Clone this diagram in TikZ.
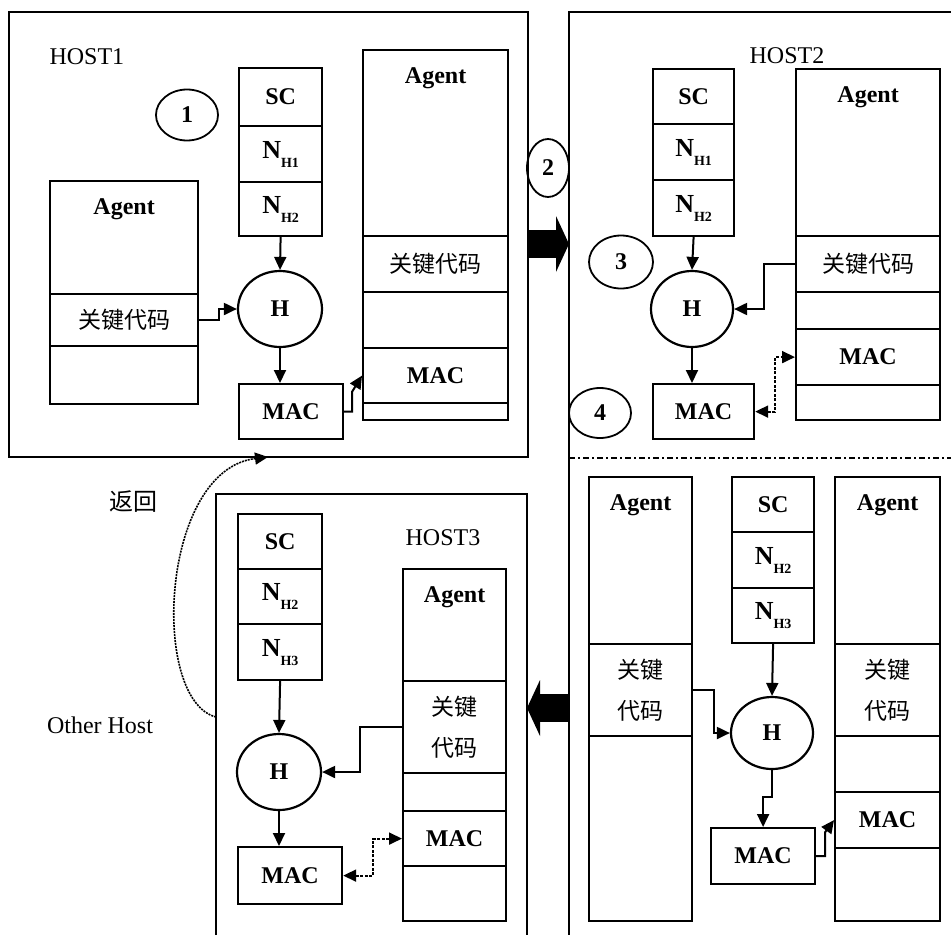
\documentclass[tikz,border=0pt]{standalone}
\usepackage{fontspec}
\setmainfont{Liberation Serif}
\newfontfamily\cjk{Noto Sans CJK SC}
\usetikzlibrary{arrows.meta,shapes.geometric}
\newcommand{\bigrm}{\fontsize{24}{28}\selectfont}
\newcommand{\Nsub}[1]{{\fontsize{26}{28}\selectfont N}\raisebox{-9pt}{\fontsize{14}{14}\selectfont #1}}

\begin{document}
\begin{tikzpicture}[x=1pt, y=-1pt,
  >={Triangle[length=13pt,width=12pt]},
  cell/.style={draw, line width=2.2pt, inner sep=0pt, anchor=north west, font=\bigrm\bfseries},
  agent/.style={cell, label={[anchor=north, inner sep=0pt, yshift=-18pt, font=\bigrm\bfseries]north:Agent}},
  key/.style={cell, font=\fontsize{23}{41}\selectfont\cjk, align=center},
  hash/.style={draw, ellipse, line width=2.2pt, inner sep=0pt, font=\bigrm\bfseries},
  numc/.style={draw, ellipse, line width=1.8pt, inner sep=0pt, font=\bigrm\bfseries},
  host/.style={font=\bigrm},
  frame/.style={line width=2.6pt},
  link/.style={line width=2pt, ->},
  dlink/.style={line width=1.8pt, dash pattern=on 3pt off 1.5pt, <->},
  retl/.style={line width=1.6pt, dash pattern=on 2pt off 1pt, ->},
  bigarrow/.style={line width=28pt, -{Triangle[length=13pt,width=56pt,line width=0pt]}}]
  \useasboundingbox (0,0) rectangle (951,935);
  \clip (0,0) rectangle (951,935);

  % HOST1
  \draw[frame] (9,12) rectangle (528,457);
  \node[host, anchor=west] (name1) at (46,57) {HOST1};
  \node[numc, minimum width=62pt, minimum height=51pt] (c1) at (187,115) {1};
  \node[cell, minimum width=83pt, minimum height=58pt] (sc1) at (238,67) {SC};
  \node[cell, minimum width=83pt, minimum height=56pt] (na1) at (238,125) {\Nsub{H1}};
  \node[cell, minimum width=83pt, minimum height=54pt] (nb1) at (238,181) {\Nsub{H2}};
  \node[hash, minimum width=84pt, minimum height=76pt] (h1) at (280,309) {H};
  \node[cell, minimum width=104pt, minimum height=55pt] (mac1) at (238,383) {MAC};
  \node[agent, minimum width=148pt, minimum height=113pt] (la1) at (49,180) {};
  \node[key, minimum width=148pt, minimum height=52pt] (lk1) at (49,293) {关键代码};
  \node[cell, minimum width=148pt, minimum height=58pt] (le1) at (49,345) {};
  \node[agent, minimum width=145pt, minimum height=186pt] (ra1) at (362,49) {};
  \node[key, minimum width=145pt, minimum height=56pt] (rk1) at (362,235) {关键代码};
  \node[cell, minimum width=145pt, minimum height=56pt] (re1) at (362,291) {};
  \node[cell, minimum width=145pt, minimum height=55pt] (rm1) at (362,347) {MAC};
  \node[cell, minimum width=145pt, minimum height=17pt] (rf1) at (362,402) {};
  \draw[link] (nb1.south) -- (h1.north);
  \draw[link] (lk1.east) -- ++(20,0) |- (h1.west);
  \draw[link] (h1.south) -- (h1.south |- mac1.north);
  \draw[link] (mac1.east) -- ++(8,0) -- ++(0,-20) -- (rm1.west);

  % HOST1 -> HOST2
  \node[numc, minimum width=42pt, minimum height=58pt] (c2) at (548,168) {2};
  \coordinate (out1) at (527,244);
  \coordinate (in2) at (569,244);
  \draw[bigarrow] (out1) -- (in2);

  % HOST2
  \draw[frame] (951,12) -- (569,12) -- (569,935);
  \draw[line width=2pt, dash pattern=on 6pt off 3pt on 2pt off 3pt] (569,458) -- (951,458);
  \node[host] (name2) at (787,56) {HOST2};
  \node[cell, minimum width=81pt, minimum height=55pt] (sc2) at (652,68) {SC};
  \node[cell, minimum width=81pt, minimum height=56pt] (na2) at (652,123) {\Nsub{H1}};
  \node[cell, minimum width=81pt, minimum height=56pt] (nb2) at (652,179) {\Nsub{H2}};
  \node[numc, minimum width=64pt, minimum height=53pt] (c3) at (621,262) {3};
  \node[hash, minimum width=82pt, minimum height=76pt] (h2) at (692,309) {H};
  \node[cell, minimum width=101pt, minimum height=55pt] (mac2) at (652,383) {MAC};
  \node[numc, minimum width=62pt, minimum height=50pt] (c4) at (600,413) {4};
  \node[agent, minimum width=144pt, minimum height=167pt] (ra2) at (795,68) {};
  \node[key, minimum width=144pt, minimum height=56pt] (rk2) at (795,235) {关键代码};
  \node[cell, minimum width=144pt, minimum height=37pt] (re2) at (795,291) {};
  \node[cell, minimum width=144pt, minimum height=56pt] (rm2) at (795,328) {MAC};
  \node[cell, minimum width=144pt, minimum height=35pt] (rf2) at (795,384) {};
  \draw[link] (nb2.south) -- (h2.north);
  \draw[link] (rk2.west) -- ++(-31,0) |- (h2.east);
  \draw[link] (h2.south) -- (h2.south |- mac2.north);
  \draw[dlink] (mac2.east) -- ++(20,0) |- (rm2.west);

  % next host
  \node[agent, minimum width=103pt, minimum height=167pt] (la4) at (588,476) {};
  \node[key, minimum width=103pt, minimum height=92pt] (lk4) at (588,643) {关键\\代码};
  \node[cell, minimum width=103pt, minimum height=185pt] (le4) at (588,735) {};
  \node[cell, minimum width=82pt, minimum height=55pt] (sc4) at (731,476) {SC};
  \node[cell, minimum width=82pt, minimum height=56pt] (na4) at (731,531) {\Nsub{H2}};
  \node[cell, minimum width=82pt, minimum height=55pt] (nb4) at (731,587) {\Nsub{H3}};
  \node[hash, minimum width=82pt, minimum height=72pt] (h4) at (772,733) {H};
  \node[cell, minimum width=104pt, minimum height=56pt] (mac4) at (710,827) {MAC};
  \node[agent, minimum width=105pt, minimum height=167pt] (ra4) at (834,476) {};
  \node[key, minimum width=105pt, minimum height=92pt] (rk4) at (834,643) {关键\\代码};
  \node[cell, minimum width=105pt, minimum height=56pt] (re4) at (834,735) {};
  \node[cell, minimum width=105pt, minimum height=56pt] (rm4) at (834,791) {MAC};
  \node[cell, minimum width=105pt, minimum height=73pt] (rf4) at (834,847) {};
  \draw[link] (nb4.south) -- (h4.north);
  \draw[link] (lk4.east) -- ++(21,0) |- (h4.west);
  \draw[link] (h4.south) -- ++(0,27) -| (mac4.north);
  \draw[link] (mac4.east) -- ++(9,0) -- ++(0,-24) -- (rm4.west);

  % -> HOST3
  \coordinate (out4) at (568,708);
  \coordinate (in3) at (527,708);
  \draw[bigarrow] (out4) -- (in3);

  % HOST3
  \draw[frame] (216,935) -- (216,494) -- (527,494) -- (527,935);
  \node[host] (name3) at (443,538) {HOST3};
  \node[cell, minimum width=84pt, minimum height=55pt] (sc3) at (237,513) {SC};
  \node[cell, minimum width=84pt, minimum height=55pt] (na3) at (237,568) {\Nsub{H2}};
  \node[cell, minimum width=84pt, minimum height=56pt] (nb3) at (237,623) {\Nsub{H3}};
  \node[hash, minimum width=84pt, minimum height=76pt] (h3) at (279,772) {H};
  \node[cell, minimum width=104pt, minimum height=57pt] (mac3) at (237,846) {MAC};
  \node[agent, minimum width=103pt, minimum height=112pt] (ra3) at (402,568) {};
  \node[key, minimum width=103pt, minimum height=92pt] (rk3) at (402,680) {关键\\代码};
  \node[cell, minimum width=103pt, minimum height=38pt] (re3) at (402,772) {};
  \node[cell, minimum width=103pt, minimum height=55pt] (rm3) at (402,810) {MAC};
  \node[cell, minimum width=103pt, minimum height=55pt] (rf3) at (402,865) {};
  \draw[link] (nb3.south) -- (h3.north);
  \draw[link] (rk3.west) -- ++(-42,0) |- (h3.east);
  \draw[link] (h3.south) -- (h3.south |- mac3.north);
  \draw[dlink] (mac3.east) -- ++(30,0) |- (rm3.west);

  % back to HOST1
  \node[host] (ret) at (133,502) {\cjk 返回};
  \node[host] (other) at (100,725) {Other Host};
  \coordinate (from3) at (216,717);
  \coordinate (back) at (268,457);
  \draw[retl] (from3) .. controls (150,700) and (160,470) .. (back);
\end{tikzpicture}
\end{document}
